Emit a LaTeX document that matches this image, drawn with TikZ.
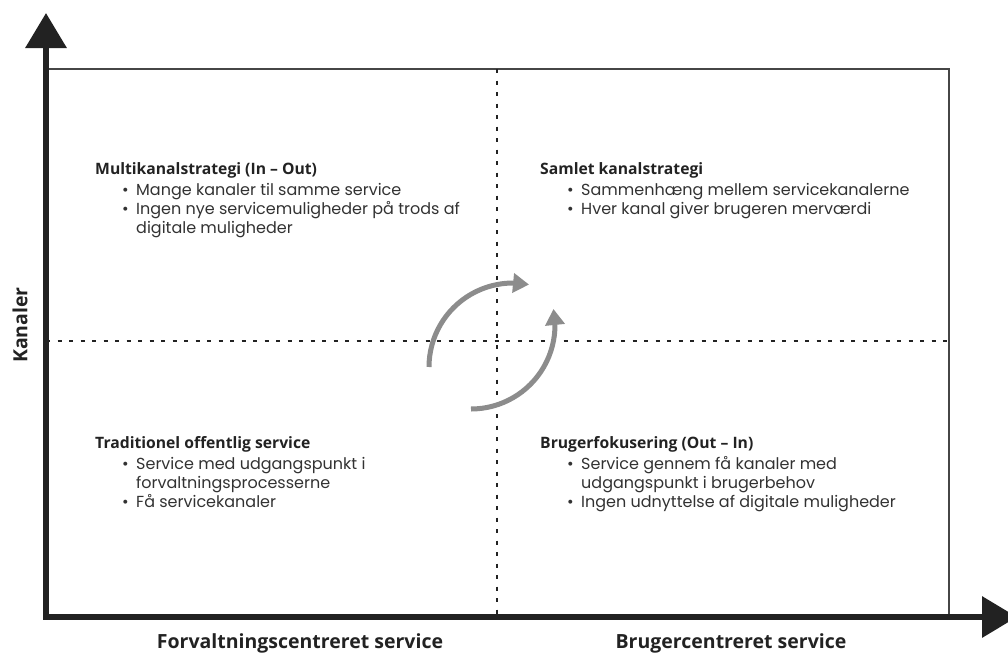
\documentclass[tikz,border=0pt]{standalone}
\usepackage{fontspec}
\setmainfont{Poppins}
\newfontfamily\headfont{Open Sans}
\usepackage{tikz}
\usetikzlibrary{arrows.meta, bending}
\definecolor{axisgray}{RGB}{34, 34, 34}
\definecolor{boxgray}{RGB}{70, 70, 70}
\definecolor{cyclegray}{RGB}{140, 140, 140}
\definecolor{textgray}{RGB}{50, 50, 50}
\newcommand{\bul}{\makebox[14pt][l]{\textbullet}}
\tikzset{
  head/.style = {anchor = base west, inner sep = 0pt, text = axisgray,
    font = \headfont\bfseries\fontsize{15.7}{18}\selectfont},
  item/.style = {anchor = base west, inner sep = 0pt, text = textgray,
    font = \fontsize{16}{19}\selectfont},
  axislabel/.style = {anchor = base, inner sep = 0pt, text = axisgray,
    font = \headfont\bfseries\fontsize{19.5}{22}\selectfont},
  quarter/.style = {line width = 1.5pt, axisgray, dash pattern = on 4pt off 7.5pt},
  cycle/.style = {line width = 5pt, cyclegray, -{Triangle[length = 16pt, width = 19pt]}}
}
\begin{document}
\begin{tikzpicture}[x = 1pt, y = -1pt]
\useasboundingbox (0, 0) rectangle (1008, 653);
% corners of the field
\coordinate (origin) at (46, 617);
\coordinate (ytip) at (46, 13);
\coordinate (xtip) at (1017, 617);
\coordinate (ne) at (949, 69);
\coordinate (midtop) at (497, 69);
\coordinate (midbot) at (497, 617);
\coordinate (midleft) at (46, 341);
\coordinate (midright) at (949, 341);
\draw[line width = 1.8pt, boxgray] (origin) rectangle (ne);
\draw[quarter] (midtop) -- (midbot);
\draw[quarter] (midleft) -- (midright);
% the two axes
\draw[line width = 6.5pt, axisgray, line join = miter,
  {Triangle[length = 35pt, width = 40pt]}-{Triangle[length = 35pt, width = 40pt]}]
  (ytip) -- (origin) -- (xtip);
\node [axislabel] (xleft) at (300, 648) {Forvaltningscentreret service};
\node [axislabel] (xright) at (731, 648) {Brugercentreret service};
\node [axislabel, anchor = center, rotate = 90] (yaxis) at (20, 325) {Kanaler};
% turning arrows in the middle
\coordinate (cycleA) at (513, 367);
\coordinate (cycleB) at (471, 325);
\draw[cycle] (cycleA) ++(180:84) arc (180:281:84);
\draw[cycle] (cycleB) ++(90:84) arc (90:-11:84);
% upper left
\node [head] (tlhead) at (95, 174) {Multikanalstrategi (In \textendash\ Out)};
\node [item] (tl1) at (122, 195) {\bul Mange kanaler til samme service};
\node [item] (tl2) at (122, 214) {\bul Ingen nye servicemuligheder på trods af};
\node [item] (tl3) at (136, 233) {digitale muligheder};
% upper right
\node [head] (trhead) at (540, 174) {Samlet kanalstrategi};
\node [item] (tr1) at (567, 195) {\bul Sammenhæng mellem servicekanalerne};
\node [item] (tr2) at (567, 214) {\bul Hver kanal giver brugeren merværdi};
% lower left
\node [head] (blhead) at (95, 448) {Traditionel offentlig service};
\node [item] (bl1) at (122, 469) {\bul Service med udgangspunkt i};
\node [item] (bl2) at (136, 488) {forvaltningsprocesserne};
\node [item] (bl3) at (122, 507) {\bul Få servicekanaler};
% lower right
\node [head] (brhead) at (540, 448) {Brugerfokusering (Out \textendash\ In)};
\node [item] (br1) at (567, 469) {\bul Service gennem få kanaler med};
\node [item] (br2) at (581, 488) {udgangspunkt i brugerbehov};
\node [item] (br3) at (567, 507) {\bul Ingen udnyttelse af digitale muligheder};
\end{tikzpicture}
\end{document}
